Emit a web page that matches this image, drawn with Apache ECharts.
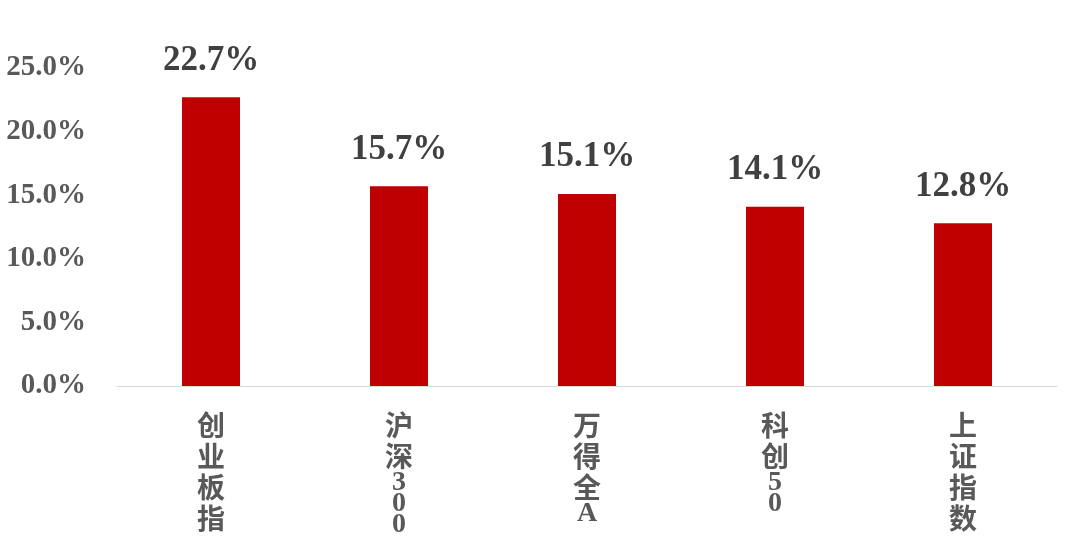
<!DOCTYPE html>
<html>
<head>
<meta charset="utf-8">
<script src="https://cdn.jsdelivr.net/npm/echarts@6/dist/echarts.min.js"></script>
<style>html,body{margin:0;padding:0;background:#fff;}#main{width:1080px;height:539px;}</style>
</head>
<body>
<div id="main"></div>
<script>
const categories = ['创业板指', '沪深300', '万得全A', '科创50', '上证指数'];
const values = [22.7, 15.7, 15.1, 14.1, 12.8];
const yMin = 0, yMax = 25, yStep = 5;

function verticalLabel(s) {
  return s.split('').map(ch => /[\u4e00-\u9fff]/.test(ch) ? '{c|' + ch + '}' : '{d|' + ch + '}').join('\n');
}

const chart = echarts.init(document.getElementById('main'));
chart.setOption({
  animation: false,
  backgroundColor: '#ffffff',
  grid: { left: 117, right: 23, top: 68, bottom: 153, containLabel: false },
  xAxis: {
    type: 'category',
    data: categories,
    axisLine: { show: true, lineStyle: { color: '#d9d9d9', width: 1 } },
    axisTick: { show: false },
    axisLabel: {
      interval: 0,
      margin: 24,
      formatter: verticalLabel,
      rich: {
        c: { fontFamily: 'Noto Sans CJK SC', fontWeight: 'bold', fontSize: 28, lineHeight: 31, color: '#595959' },
        d: { fontFamily: 'Liberation Serif', fontWeight: 'bold', fontSize: 28, lineHeight: 21, color: '#595959' }
      }
    }
  },
  yAxis: {
    type: 'value',
    min: yMin, max: yMax, interval: yStep,
    splitLine: { show: false },
    axisLine: { show: false },
    axisTick: { show: false },
    axisLabel: {
      margin: 31,
      formatter: v => v.toFixed(1) + '%',
      fontFamily: 'Liberation Serif', fontWeight: 'bold', fontSize: 29, color: '#595959'
    }
  },
  series: [{
    type: 'bar',
    data: values,
    barWidth: 58,
    itemStyle: { color: '#c00000' },
    label: {
      show: true,
      position: 'top',
      distance: 19,
      formatter: p => p.value.toFixed(1) + '%',
      fontFamily: 'Liberation Serif', fontWeight: 'bold', fontSize: 35, color: '#404040'
    }
  }]
});
</script>
</body>
</html>
